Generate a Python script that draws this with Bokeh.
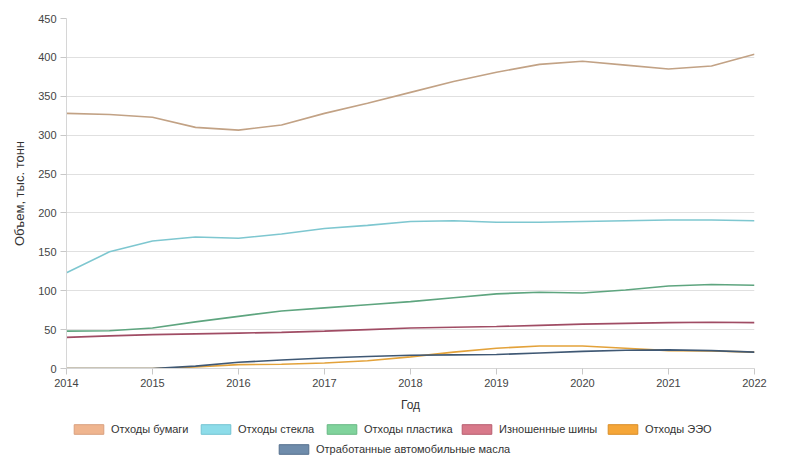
from bokeh.plotting import figure
from bokeh.models import Range1d, FixedTicker, Legend, LegendItem
from bokeh.layouts import column
from bokeh.embed import file_html
from bokeh.resources import INLINE

# --- data (half-year steps) ---
years = [2014, 2014.5, 2015, 2015.5, 2016, 2016.5, 2017, 2017.5, 2018,
         2018.5, 2019, 2019.5, 2020, 2020.5, 2021, 2021.5, 2022]
paper = [328, 326.5, 323, 310, 306.5, 313, 328, 341, 355, 369, 381, 391, 395, 390, 385, 389, 404]
glass = [123, 150, 164, 169, 167.5, 173, 180, 184, 189, 190, 188, 188, 189, 190, 191, 191, 190]
plastic = [48, 48.5, 52, 60, 67, 74, 78, 82, 86, 91, 96, 98, 97, 101, 106, 108, 107]
tires = [40, 42, 43.5, 44.5, 45.5, 46.5, 48, 50, 52, 53, 54, 55.5, 57, 58, 59, 59.5, 59]
eee = [0, 0, 0, 2, 5, 5.5, 7, 10, 15, 21, 26, 29, 29, 26, 23, 22.5, 21]
oils = [0, 0, 0, 3, 8, 11, 13.5, 15.5, 17, 17.5, 18, 20, 22, 23.5, 24, 23, 21]

names = ["Отходы бумаги", "Отходы стекла", "Отходы пластика", "Изношенные шины",
         "Отходы ЭЭО", "Отработанные автомобильные масла"]
x_ticks = [2014, 2015, 2016, 2017, 2018, 2019, 2020, 2021, 2022]
y_ticks = [0, 50, 100, 150, 200, 250, 300, 350, 400, 450]

series = [paper, glass, plastic, tires, eee, oils]
line_colors = ["#c2a285", "#7ec7d0", "#5ea57f", "#a04c64", "#e3a23a", "#3f5874"]
patch_fill = ["#efb58f", "#8ddce9", "#80d39c", "#d8798a", "#f5a638", "#6f8cab"]
patch_line = ["#d9a07f", "#74c4d2", "#68b884", "#b85e70", "#d98e28", "#56708e"]
# legend entry placement (screen px from the plot frame's left / legend strip bottom)
legend_pos = [(4, 24), (131, 24), (257, 24), (392, 24), (538, 24), (209, 4)]

FONT = "Liberation Sans"
W = 801

p = figure(width=W, height=414, output_backend="svg", toolbar_location=None,
           x_range=Range1d(2014, 2022), y_range=Range1d(0, 450),
           min_border_left=66, min_border_right=47, min_border_top=18,
           min_border_bottom=45)
p.outline_line_color = None

for vals, c in zip(series, line_colors):
    p.line(years, vals, line_color=c, line_width=1.6)

# axes
p.xaxis.ticker = FixedTicker(ticks=x_ticks)
p.yaxis.ticker = FixedTicker(ticks=y_ticks)
p.xaxis.minor_tick_line_color = None
p.yaxis.minor_tick_line_color = None
for ax in (p.xaxis[0], p.yaxis[0]):
    ax.axis_line_color = "#d6d6d6"
    ax.major_tick_line_color = "#c8c8c8"
    ax.major_tick_in = 0
    ax.major_tick_out = 6
    ax.major_label_text_font = FONT
    ax.major_label_text_font_size = "11px"
    ax.major_label_text_color = "#444444"
    ax.axis_label_text_font = FONT
    ax.axis_label_text_font_style = "normal"
    ax.axis_label_text_color = "#333333"
p.xaxis.axis_label = "Год"
p.yaxis.axis_label = "Объем, тыс. тонн"
p.xaxis.axis_label_text_font_size = "12px"
p.yaxis.axis_label_text_font_size = "13px"
p.xaxis.major_label_standoff = 4
p.xaxis.axis_label_standoff = 8
p.yaxis.major_label_standoff = 4
p.yaxis.axis_label_standoff = 8

p.xgrid.grid_line_color = None
p.ygrid.grid_line_color = "#e0e0e0"
p.ygrid.grid_line_width = 1

# legend strip (separate figure under the chart; its frame aligns with the chart's)
lg = figure(width=W, height=46, output_backend="svg", toolbar_location=None,
            x_range=Range1d(0, 1), y_range=Range1d(0, 1),
            x_axis_type=None, y_axis_type=None,
            min_border_left=66, min_border_right=47, min_border_top=0,
            min_border_bottom=0)
lg.outline_line_color = None
lg.xgrid.grid_line_color = None
lg.ygrid.grid_line_color = None

for name, fc, lc, loc in zip(names, patch_fill, patch_line, legend_pos):
    # proxy glyph kept outside the visible range; only its legend swatch shows
    r = lg.quad(left=[5], right=[6], top=[6], bottom=[5], fill_color=fc,
                line_color=lc, line_width=1)
    leg = Legend(items=[LegendItem(label=name, renderers=[r])], location=loc,
                 orientation="horizontal", border_line_color=None,
                 background_fill_alpha=0, glyph_width=37, glyph_height=12,
                 label_height=14, label_standoff=4, spacing=0, padding=0,
                 margin=0, label_text_font=FONT, label_text_font_size="11px",
                 label_text_color="#333333")
    lg.add_layout(leg, "center")

layout = column(p, lg)
open("out.html", "w").write(file_html(layout, INLINE))
